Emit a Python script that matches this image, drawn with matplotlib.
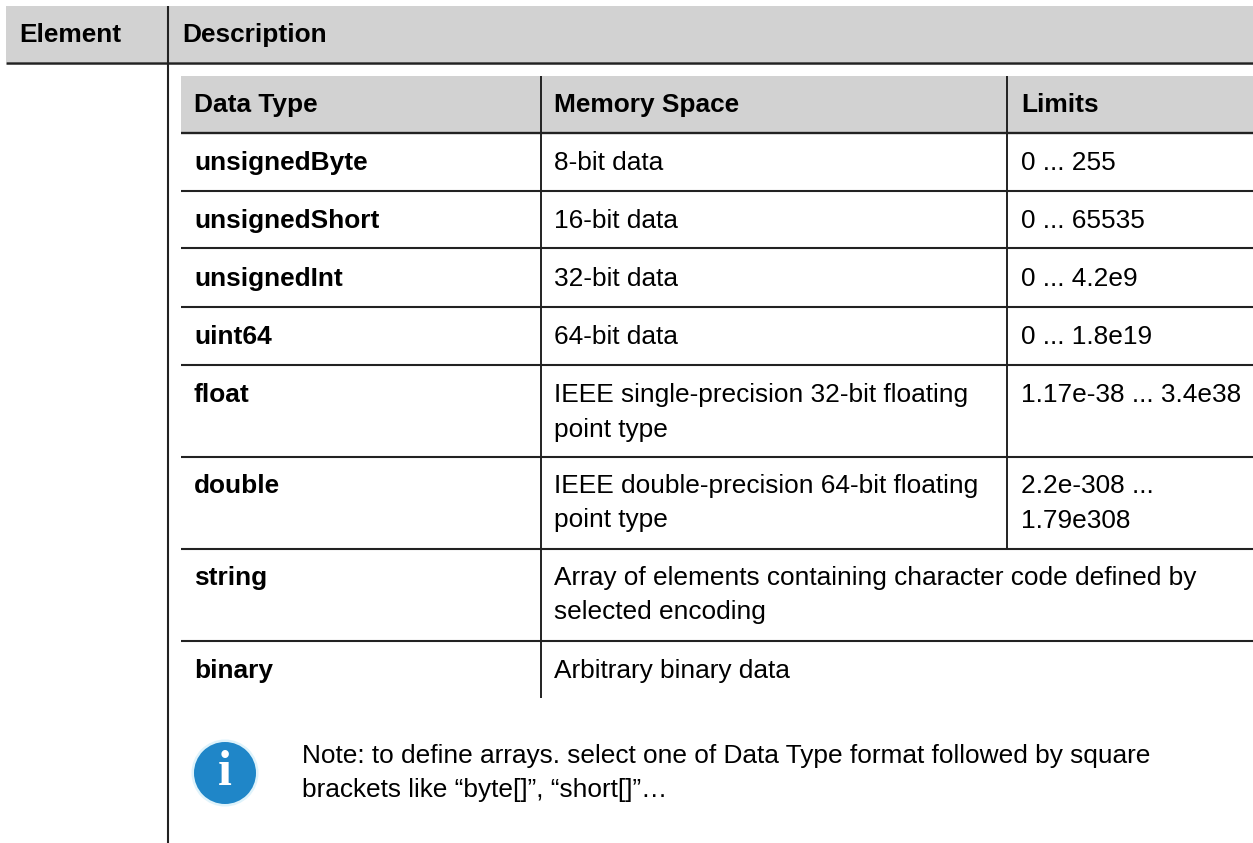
import matplotlib
matplotlib.use("Agg")
import matplotlib.pyplot as plt
from matplotlib.patches import Circle, Rectangle

plt.rcParams['font.family'] = ['Liberation Sans', 'DejaVu Sans']

HEADER_GRAY = '#d2d2d2'
LINE_COLOR = '#222222'
ICON_BLUE = '#1f86c8'

outer_headers = ['Element', 'Description']
inner_headers = ['Data Type', 'Memory Space', 'Limits']
data_types = ['unsignedByte', 'unsignedShort', 'unsignedInt', 'uint64',
              'float', 'double', 'string', 'binary']
memory_space = ['8-bit data', '16-bit data', '32-bit data', '64-bit data',
                'IEEE single-precision 32-bit floating\npoint type',
                'IEEE double-precision 64-bit floating\npoint type',
                'Array of elements containing character code defined by\nselected encoding',
                'Arbitrary binary data']
limits = ['0 ... 255', '0 ... 65535', '0 ... 4.2e9', '0 ... 1.8e19',
          '1.17e-38 ... 3.4e38', '2.2e-308 ...\n1.79e308', '', '']
row_baselines = [170, 228, 286, 344, 402, 493, 585, 678]
row_rules = [191, 248, 307, 365, 457, 549, 641]
note = ('Note: to define arrays. select one of Data Type format followed by square\n'
        'brackets like \u201cbyte[]\u201d, \u201cshort[]\u201d\u2026')

FS = 18.9
LINE_STEP = 34.5


def put_text(ax, x, y, label, **kwargs):
    for i, line in enumerate(label.split('\n')):
        ax.text(x, y + i * LINE_STEP, line, fontsize=FS, va='baseline', **kwargs)


fig = plt.figure(figsize=(12.53, 8.43), dpi=100)
ax = fig.add_axes([0, 0, 1, 1])
ax.set_xlim(0, 1253)
ax.set_ylim(843, 0)
ax.axis('off')

# Header bands
ax.add_patch(Rectangle((6, 6), 1247, 56, color=HEADER_GRAY, lw=0))
ax.add_patch(Rectangle((181, 76), 1072, 57, color=HEADER_GRAY, lw=0))

# Rules
ax.plot([6, 1253], [62.5, 62.5], color=LINE_COLOR, lw=1.8, solid_capstyle='butt')
ax.plot([181, 1253], [133, 133], color=LINE_COLOR, lw=1.7, solid_capstyle='butt')
for y in row_rules:
    ax.plot([181, 1253], [y, y], color=LINE_COLOR, lw=1.5, solid_capstyle='butt')
ax.plot([168, 168], [6, 843], color=LINE_COLOR, lw=1.5, solid_capstyle='butt')
ax.plot([541, 541], [76, 698], color=LINE_COLOR, lw=1.4, solid_capstyle='butt')
ax.plot([1007, 1007], [76, 549], color=LINE_COLOR, lw=1.4, solid_capstyle='butt')

# Outer header text
put_text(ax, 19, 42, outer_headers[0], fontweight='bold')
put_text(ax, 182, 42, outer_headers[1], fontweight='bold')

# Inner header text
for x, label in zip([194, 554, 1021], inner_headers):
    put_text(ax, x, 112, label, fontweight='bold')

# Rows
for y, dtype, mem, lim in zip(row_baselines, data_types, memory_space, limits):
    put_text(ax, 194, y, dtype, fontweight='bold')
    put_text(ax, 554, y, mem)
    if lim:
        put_text(ax, 1021, y, lim)

# Note with info icon
ax.add_patch(Circle((225, 773), 33.5, color='#dff3fb', lw=0))
ax.add_patch(Circle((225, 773), 31, color=ICON_BLUE, lw=0))
ax.text(225, 773, 'i', fontsize=36, fontweight='bold', color='white',
        ha='center', va='center', family=['Liberation Serif', 'DejaVu Serif'])
put_text(ax, 302, 763, note)

fig.savefig('out.png', dpi=100)
